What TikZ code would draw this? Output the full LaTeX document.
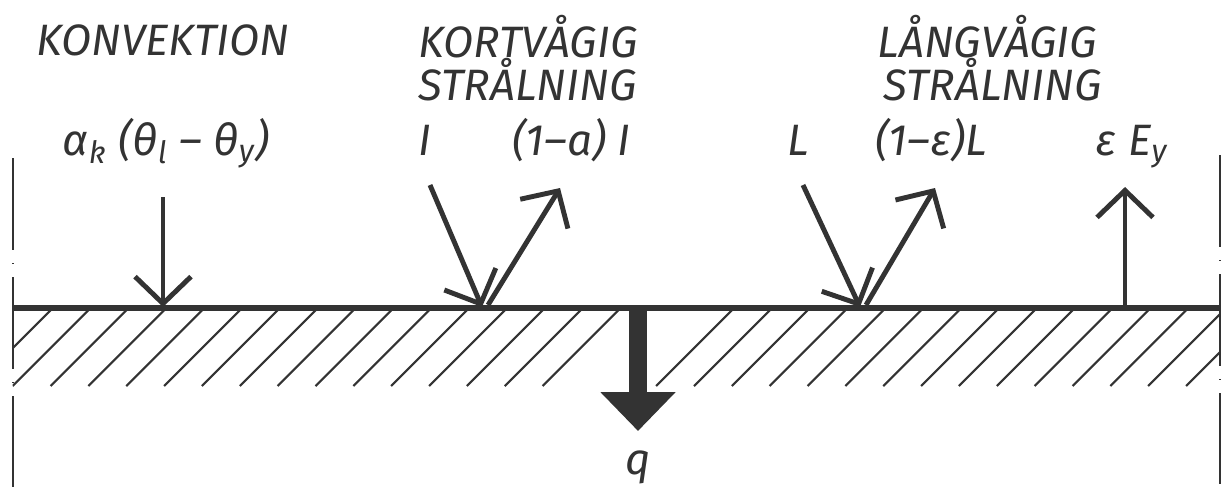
\documentclass[tikz,border=0pt]{standalone}
\usepackage{fontspec}
\setmainfont{Fira Sans}
\usepackage{tikz}
\usetikzlibrary{arrows.meta,calc}
\definecolor{ink}{HTML}{333333}

\begin{document}
\begin{tikzpicture}[x=0.1mm,y=-0.1mm,
 lab/.style={font=\itshape\fontsize{12.5}{14}\selectfont,inner sep=0pt,anchor=base,color=ink},
 labw/.style={lab,anchor=base west},
 ray/.style={-{Straight Barb[length=2.7mm,width=5.6mm]},line width=1.4pt,color=ink},
 surf/.style={line width=1.5pt,color=ink},
 hatch/.style={line width=0.6pt,color=ink},
 rim/.style={line width=0.6pt,color=ink,dash pattern=on 9.2mm off 1.3mm on 0.1mm off 1.3mm},
 flux/.style={-{Triangle[length=3.9mm,width=7.3mm]},line width=1.8mm,color=ink}]
 \useasboundingbox (0,0) rectangle (1229,501);

 \coordinate (lb) at (12.7,308);
 \coordinate (rb) at (1220,308);
 \coordinate (kv) at (163,307);
 \coordinate (sw) at (482,307);
 \coordinate (lw) at (860,307);
 \coordinate (ey) at (1125,307);
 \coordinate (qs) at (638,309);

 \draw[rim] (12.7,158) -- (12.7,487);
 \draw[rim] (1220,155) -- (1220,484);

 \begin{scope}
  \clip (12.7,309) rectangle (1220,387);
  \foreach \k in {-1,...,14,17,18,...,31}
   \draw[hatch] ({12.7+37.85*(\k)},386) -- ++(77,-77);
 \end{scope}
 \draw[surf] (lb) -- (rb);

 \node[lab] (konv) at (163,55) {KONVEKTION};
 \node[labw] (kort) at (418,57) {KORTVÅGIG};
 \node[labw] (kortb) at (418,100) {STRÅLNING};
 \node[labw] (lang) at (877,57) {LÅNGVÅGIG};
 \node[labw] (langb) at (883,100) {STRÅLNING};

 \node[labw] (conv) at (62,155) {α\textsubscript{k} (θ\textsubscript{l} – θ\textsubscript{y})};
 \node[lab] (iin) at (425,155) {I};
 \node[labw] (iout) at (512,155) {(1–a) I};
 \node[labw] (lin) at (787,155) {L};
 \node[labw] (lout) at (875,155) {(1–ε)L};
 \node[labw] (emit) at (1095,155) {ε E\textsubscript{y}};
 \node[lab] (qlab) at (638,474) {q};

 \coordinate (kvtop) at (163,197);
 \coordinate (swin) at (430,185);
 \coordinate (swout) at (560,188);
 \coordinate (lwin) at (803,185);
 \coordinate (lwout) at (935,188);
 \coordinate (eytop) at (1125,187);
 \coordinate (qe) at (638,431);

 \draw[ray] (kvtop) -- (kv);
 \draw[ray] (swin) -- (sw);
 \draw[ray] ($(sw)+(6,-2)$) -- (swout);
 \draw[ray] (lwin) -- (lw);
 \draw[ray] ($(lw)+(6,-2)$) -- (lwout);
 \draw[ray] (ey) -- (eytop);
 \draw[flux] (qs) -- (qe);
\end{tikzpicture}
\end{document}
